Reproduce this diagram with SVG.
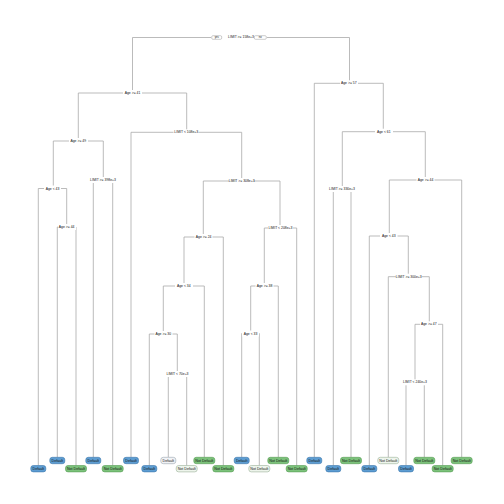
<svg xmlns="http://www.w3.org/2000/svg" width="504" height="504" viewBox="0 0 504 504">
<style>
.e{stroke:#a9a9a9;stroke-width:0.8;fill:none}
.bg{fill:#ffffff}
.s{font-family:"Liberation Sans",Arial,sans-serif;font-size:3.4px;fill:#111;text-anchor:middle;dominant-baseline:central}
.l{font-family:"Liberation Sans",Arial,sans-serif;font-size:3.6px;fill:#111;text-anchor:middle;dominant-baseline:central}
.d{fill:#5d9dd2;stroke:#3b76ab;stroke-width:0.6}
.dl{fill:#f1f3f6;stroke:#9aa4ae;stroke-width:0.6}
.n{fill:#7cc27b;stroke:#549b52;stroke-width:0.6}
.nl{fill:#eef5ec;stroke:#9bb098;stroke-width:0.6}
.yn{fill:#ffffff;stroke:#9a9a9a;stroke-width:0.5}
</style>
<rect width="504" height="504" fill="#ffffff"/>
<g id="connectors">
<path class="e" d="M132.5 37.5H349.5M132.5 37.5V93M349.5 37.5V83.3"/>
<path class="e" d="M78.3 93H186.7M78.3 93V141M186.7 93V132.3"/>
<path class="e" d="M53.3 141H103.3M53.3 141V188.5M103.3 141V180"/>
<path class="e" d="M38.3 188.5H66.7M38.3 188.5V465.5M66.7 188.5V227"/>
<path class="e" d="M57.3 227H76M57.3 227V457.3M76 227V465.5"/>
<path class="e" d="M93.3 180H112.7M93.3 180V457.3M112.7 180V465.5"/>
<path class="e" d="M131 132.3H241.7M131 132.3V457.3M241.7 132.3V181"/>
<path class="e" d="M203.3 181H280M203.3 181V237M280 181V228"/>
<path class="e" d="M184 237H223.3M184 237V286M223.3 237V465.5"/>
<path class="e" d="M163.3 286H204.3M163.3 286V334M204.3 286V457.3"/>
<path class="e" d="M149.3 334H177.3M149.3 334V465.5M177.3 334V374"/>
<path class="e" d="M168.3 374H186.7M168.3 374V457.3M186.7 374V465.5"/>
<path class="e" d="M264.3 228H296.7M264.3 228V286M296.7 228V465.5"/>
<path class="e" d="M250.7 286H278.3M250.7 286V333.5M278.3 286V457.3"/>
<path class="e" d="M241.7 333.5H259.3M241.7 333.5V457.3M259.3 333.5V465.5"/>
<path class="e" d="M314.3 83.3H383.3M314.3 83.3V457.3M383.3 83.3V131.7"/>
<path class="e" d="M342.3 131.7H425.3M342.3 131.7V189M425.3 131.7V180"/>
<path class="e" d="M333.3 189H351M333.3 189V465.5M351 189V457.3"/>
<path class="e" d="M389.3 180H461.7M389.3 180V236M461.7 180V457.3"/>
<path class="e" d="M369.3 236H408.3M369.3 236V465.5M408.3 236V276.7"/>
<path class="e" d="M388.3 276.7H429.3M388.3 276.7V457.3M429.3 276.7V324.3"/>
<path class="e" d="M415 324.3H442.7M415 324.3V382.3M442.7 324.3V465.5"/>
<path class="e" d="M406 382.3H424.3M406 382.3V465.5M424.3 382.3V457.3"/>
</g>
<g id="n1"><rect class="bg" x="211" y="34" width="56" height="7"/><rect class="yn" x="211.7" y="35.7" width="10" height="3.6" rx="1.2"/><text class="s" x="216.7" y="37.5" style="font-size:2.6px">yes</text><text class="s" x="241" y="37.3">LIMIT &gt;= 158e+3</text><rect class="yn" x="254.3" y="35.7" width="12" height="3.6" rx="1.2"/><text class="s" x="260.3" y="37.5" style="font-size:2.6px">no</text></g>
<g id="n2"><rect class="bg" x="123" y="90" width="19" height="6"/><text class="s" x="132.5" y="93">Age &gt;= 41</text></g>
<g id="n3"><rect class="bg" x="69" y="138" width="19" height="6"/><text class="s" x="78.3" y="141">Age &gt;= 49</text></g>
<g id="n4"><rect class="bg" x="44" y="185.5" width="17" height="6"/><text class="s" x="52.5" y="188.5">Age &lt; 43</text></g>
<g id="n5"><rect class="bg" x="58" y="224" width="18" height="6"/><text class="s" x="66.7" y="227">Age &gt;= 44</text></g>
<g id="n6"><rect class="bg" x="90.5" y="177" width="25" height="6"/><text class="s" x="103" y="180">LIMIT &gt;= 398e+3</text></g>
<g id="n7"><rect class="bg" x="173.5" y="129.3" width="25" height="6"/><text class="s" x="186.3" y="132.3">LIMIT &lt; 108e+3</text></g>
<g id="n8"><rect class="bg" x="229" y="178" width="25" height="6"/><text class="s" x="241.7" y="181">LIMIT &gt;= 308e+3</text></g>
<g id="n9"><rect class="bg" x="194.5" y="234" width="18" height="6"/><text class="s" x="203.7" y="237">Age &gt;= 24</text></g>
<g id="n10"><rect class="bg" x="175" y="283" width="18" height="6"/><text class="s" x="183.8" y="286">Age &lt; 34</text></g>
<g id="n11"><rect class="bg" x="154.5" y="331" width="18" height="6"/><text class="s" x="163.3" y="334">Age &gt;= 30</text></g>
<g id="n12"><rect class="bg" x="165.5" y="371" width="24" height="6"/><text class="s" x="177.5" y="374">LIMIT &lt; 70e+3</text></g>
<g id="n13"><rect class="bg" x="268" y="225" width="25" height="6"/><text class="s" x="280.5" y="228">LIMIT &lt; 208e+3</text></g>
<g id="n14"><rect class="bg" x="255.5" y="283" width="18" height="6"/><text class="s" x="264.5" y="286">Age &gt;= 38</text></g>
<g id="n15"><rect class="bg" x="242" y="330.5" width="17" height="6"/><text class="s" x="250.5" y="333.5">Age &lt; 33</text></g>
<g id="n16"><rect class="bg" x="340" y="80.3" width="18" height="6"/><text class="s" x="348.8" y="83.3">Age &gt;= 57</text></g>
<g id="n17"><rect class="bg" x="375" y="128.7" width="18" height="6"/><text class="s" x="383.8" y="131.7">Age &lt; 61</text></g>
<g id="n18"><rect class="bg" x="329" y="186" width="26" height="6"/><text class="s" x="342" y="189">LIMIT &gt;= 330e+3</text></g>
<g id="n19"><rect class="bg" x="416.5" y="177" width="18" height="6"/><text class="s" x="425.5" y="180">Age &gt;= 44</text></g>
<g id="n20"><rect class="bg" x="380" y="233" width="17.5" height="6"/><text class="s" x="388.8" y="236">Age &lt; 43</text></g>
<g id="n21"><rect class="bg" x="395.8" y="273.7" width="26" height="6"/><text class="s" x="408.8" y="276.7">LIMIT &gt;= 300e+3</text></g>
<g id="n22"><rect class="bg" x="420" y="321.3" width="18" height="6"/><text class="s" x="428.8" y="324.3">Age &gt;= 47</text></g>
<g id="n23"><rect class="bg" x="402" y="379.3" width="26" height="6"/><text class="s" x="415" y="382.3">LIMIT &lt; 240e+3</text></g>
<g id="leaf1"><rect class="d" x="30.8" y="465.5" width="15" height="6.4" rx="2.5"/><text class="l" x="38.3" y="468.8">Default</text></g>
<g id="leaf2"><rect class="d" x="49.8" y="457.3" width="15" height="6.4" rx="2.5"/><text class="l" x="57.3" y="460.6">Default</text></g>
<g id="leaf3"><rect class="n" x="65.5" y="465.5" width="21" height="6.4" rx="2.5"/><text class="l" x="76" y="468.8">Not Default</text></g>
<g id="leaf4"><rect class="d" x="85.8" y="457.3" width="15" height="6.4" rx="2.5"/><text class="l" x="93.3" y="460.6">Default</text></g>
<g id="leaf5"><rect class="n" x="102.2" y="465.5" width="21" height="6.4" rx="2.5"/><text class="l" x="112.7" y="468.8">Not Default</text></g>
<g id="leaf6"><rect class="d" x="123.5" y="457.3" width="15" height="6.4" rx="2.5"/><text class="l" x="131" y="460.6">Default</text></g>
<g id="leaf7"><rect class="d" x="141.8" y="465.5" width="15" height="6.4" rx="2.5"/><text class="l" x="149.3" y="468.8">Default</text></g>
<g id="leaf8"><rect class="dl" x="160.8" y="457.3" width="15" height="6.4" rx="2.5"/><text class="l" x="168.3" y="460.6">Default</text></g>
<g id="leaf9"><rect class="nl" x="176.2" y="465.5" width="21" height="6.4" rx="2.5"/><text class="l" x="186.7" y="468.8">Not Default</text></g>
<g id="leaf10"><rect class="n" x="193.8" y="457.3" width="21" height="6.4" rx="2.5"/><text class="l" x="204.3" y="460.6">Not Default</text></g>
<g id="leaf11"><rect class="n" x="212.8" y="465.5" width="21" height="6.4" rx="2.5"/><text class="l" x="223.3" y="468.8">Not Default</text></g>
<g id="leaf12"><rect class="d" x="234.2" y="457.3" width="15" height="6.4" rx="2.5"/><text class="l" x="241.7" y="460.6">Default</text></g>
<g id="leaf13"><rect class="nl" x="248.8" y="465.5" width="21" height="6.4" rx="2.5"/><text class="l" x="259.3" y="468.8">Not Default</text></g>
<g id="leaf14"><rect class="n" x="267.8" y="457.3" width="21" height="6.4" rx="2.5"/><text class="l" x="278.3" y="460.6">Not Default</text></g>
<g id="leaf15"><rect class="n" x="286.2" y="465.5" width="21" height="6.4" rx="2.5"/><text class="l" x="296.7" y="468.8">Not Default</text></g>
<g id="leaf16"><rect class="d" x="306.8" y="457.3" width="15" height="6.4" rx="2.5"/><text class="l" x="314.3" y="460.6">Default</text></g>
<g id="leaf17"><rect class="d" x="325.8" y="465.5" width="15" height="6.4" rx="2.5"/><text class="l" x="333.3" y="468.8">Default</text></g>
<g id="leaf18"><rect class="n" x="340.5" y="457.3" width="21" height="6.4" rx="2.5"/><text class="l" x="351" y="460.6">Not Default</text></g>
<g id="leaf19"><rect class="d" x="361.8" y="465.5" width="15" height="6.4" rx="2.5"/><text class="l" x="369.3" y="468.8">Default</text></g>
<g id="leaf20"><rect class="nl" x="377.8" y="457.3" width="21" height="6.4" rx="2.5"/><text class="l" x="388.3" y="460.6">Not Default</text></g>
<g id="leaf21"><rect class="d" x="398.5" y="465.5" width="15" height="6.4" rx="2.5"/><text class="l" x="406" y="468.8">Default</text></g>
<g id="leaf22"><rect class="n" x="413.8" y="457.3" width="21" height="6.4" rx="2.5"/><text class="l" x="424.3" y="460.6">Not Default</text></g>
<g id="leaf23"><rect class="n" x="432.2" y="465.5" width="21" height="6.4" rx="2.5"/><text class="l" x="442.7" y="468.8">Not Default</text></g>
<g id="leaf24"><rect class="n" x="451.2" y="457.3" width="21" height="6.4" rx="2.5"/><text class="l" x="461.7" y="460.6">Not Default</text></g>
</svg>
